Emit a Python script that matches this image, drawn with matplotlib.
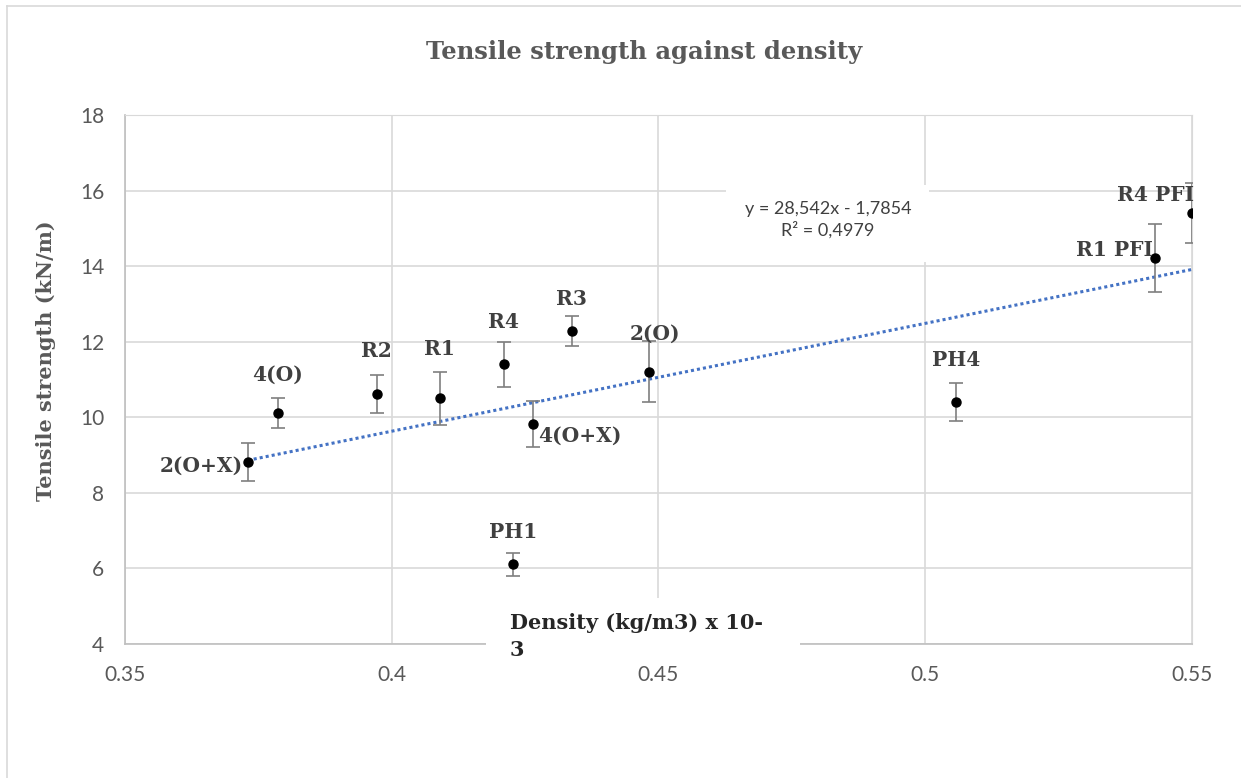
import numpy as np
import matplotlib
matplotlib.use("Agg")
import matplotlib.pyplot as plt
from matplotlib.patches import Rectangle
from matplotlib.lines import Line2D

# Data
samples = ["2(O+X)", "4(O)", "R2", "R1", "R4", "4(O+X)", "PH1", "R3", "2(O)", "PH4", "R1 PFI", "R4 PFI"]
density = [0.373, 0.3786, 0.3972, 0.409, 0.421, 0.4265, 0.4227, 0.4337, 0.4482, 0.5058, 0.5431, 0.55]
strength = [8.81, 10.11, 10.61, 10.50, 11.40, 9.82, 6.11, 12.29, 11.21, 10.40, 14.21, 15.40]
strength_err = [0.5, 0.4, 0.5, 0.7, 0.6, 0.6, 0.3, 0.4, 0.8, 0.5, 0.9, 0.8]

# Linear trendline reported by the chart
trend_slope = 28.542
trend_intercept = -1.7854
trend_r2 = 0.4979

x_ticks = [0.35, 0.4, 0.45, 0.5, 0.55]
y_ticks = [4, 6, 8, 10, 12, 14, 16, 18]

# Label placement: (dx, dy) in pixels, horizontal alignment
label_pos = {
    "2(O+X)": (-5, -4, "right"),
    "4(O)": (0, 38, "center"),
    "R2": (0, 43, "center"),
    "R1": (0, 49, "center"),
    "R4": (0, 42, "center"),
    "4(O+X)": (5, -12, "left"),
    "PH1": (0, 32, "center"),
    "R3": (0, 32, "center"),
    "2(O)": (6, 38, "center"),
    "PH4": (0, 42, "center"),
    "R1 PFI": (-2, 8, "right"),
    "R4 PFI": (2, 18, "right"),
}

W, H = 1241, 778
fig = plt.figure(figsize=(W / 100, H / 100), dpi=100)

# axes placed in pixel terms of the reference
L, R, T, B = 125, 1192, 115, 644
ax = fig.add_axes([L / W, 1 - B / H, (R - L) / W, (B - T) / H])

grid_c = "#d9d9d9"
text_c = "#595959"
serif = "DejaVu Serif"

# chart-area border (only top/left visible in crop)
fig.add_artist(Line2D([7 / W, 1.0], [1 - 6 / H, 1 - 6 / H], color=grid_c, lw=1.2))
fig.add_artist(Line2D([7 / W, 7 / W], [0.0, 1 - 6 / H], color=grid_c, lw=1.2))

ax.errorbar(density, strength, yerr=strength_err, fmt="o", color="black",
            markersize=6.5, ecolor="#7f7f7f", elinewidth=1.2, capsize=4.8,
            capthick=1.2, zorder=3)

# trendline
xt = np.linspace(min(density), max(density), 50)
ax.plot(xt, trend_slope * xt + trend_intercept, color="#4472C4", lw=2.2,
        linestyle=(0, (1, 1.0)), zorder=2)

for name, x, y in zip(samples, density, strength):
    dx, dy, ha = label_pos[name]
    ax.annotate(name, xy=(x, y), xytext=(dx, dy), textcoords="offset pixels",
                ha=ha, va="center", fontsize=14.5, fontweight="bold",
                family=serif, color="#404040", zorder=4, annotation_clip=False)

# trendline equation box
box = Rectangle(((726 - L) / (R - L), (B - 262) / (B - T)), 203 / (R - L), 77 / (B - T),
                transform=ax.transAxes, facecolor="white", edgecolor="none", zorder=1.5)
ax.add_patch(box)
eq = "y = {:.3f}x - {:.4f}".format(trend_slope, -trend_intercept).replace(".", ",")
r2 = "R² = {:.4f}".format(trend_r2).replace(".", ",")
ax.text((828 - L) / (R - L), (B - 220) / (B - T), eq + "\n" + r2,
        transform=ax.transAxes, ha="center", va="center", fontsize=13,
        family="Lato", color="#404040", linespacing=1.3, zorder=2)

ax.set_xlim(0.35, 0.55)
ax.set_ylim(4, 18)
ax.set_xticks(x_ticks)
ax.set_xticklabels([f"{t:g}" for t in x_ticks])
ax.set_yticks(y_ticks)
ax.tick_params(length=0, labelsize=15, labelcolor=text_c, pad=15)
for lab in ax.get_xticklabels() + ax.get_yticklabels():
    lab.set_family("Lato")
ax.grid(True, color=grid_c, lw=1.2)
ax.set_axisbelow(True)
for side in ["top", "right"]:
    ax.spines[side].set_color(grid_c)
for side in ["left", "bottom"]:
    ax.spines[side].set_color("#bfbfbf")
    ax.spines[side].set_linewidth(1.2)

ax.set_ylabel("Tensile strength (kN/m)", fontsize=15, fontweight="bold",
              family=serif, color=text_c, va="center")
ax.yaxis.set_label_coords((46 - L) / (R - L), (B - 361) / (B - T))

# x label sits in a white box that cuts the axis line
fig.add_artist(Rectangle((486 / W, 1 - 662 / H), 314 / W, 64 / H,
                         facecolor="white", edgecolor="none", zorder=2))
fig.text(510 / W, 1 - 613 / H, "Density (kg/m3) x 10-\n3", ha="left", va="top",
         fontsize=15, fontweight="bold", family=serif, color="#262626",
         linespacing=1.45, zorder=3)

fig.text(644 / W, 1 - 52 / H, "Tensile strength against density", ha="center",
         va="center", fontsize=17.5, fontweight="bold", family=serif, color=text_c)

fig.savefig("out.png", dpi=100)
